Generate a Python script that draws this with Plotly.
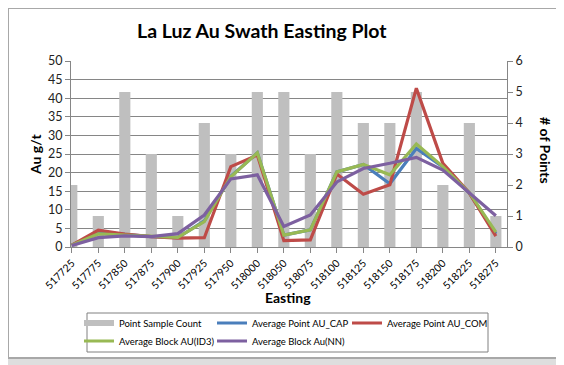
import plotly.graph_objects as go

eastings = ["517725", "517775", "517850", "517875", "517900", "517925", "517950",
            "518000", "518050", "518075", "518100", "518125", "518150", "518175",
            "518200", "518225", "518275"]
point_count = [2, 1, 5, 3, 1, 4, 3, 5, 5, 3, 5, 4, 4, 5, 2, 4, 1]
au_cap = [0.5, 4.0, 3.4, 2.8, 2.5, 7.0, 19.0, 25.3, 3.2, 4.6, 20.2, 22.2, 17.0, 26.5, 21.5, 14.5, 3.5]
au_com = [0.5, 4.5, 3.5, 2.8, 2.4, 2.5, 21.6, 24.7, 1.7, 1.9, 19.6, 14.2, 16.7, 42.7, 22.5, 14.5, 2.9]
au_id3 = [0.5, 3.5, 3.2, 2.8, 2.6, 6.8, 18.9, 25.3, 3.2, 4.6, 20.2, 22.2, 19.4, 27.7, 21.6, 14.6, 4.0]
au_nn = [0.4, 2.5, 3.0, 2.8, 3.6, 8.6, 18.3, 19.4, 5.5, 8.6, 17.5, 21.1, 22.5, 24.1, 20.7, 14.6, 8.4]

# page body has an 8px margin: figure is drawn at screen offset (8, 8)
OFF = 8
SW, SH = 564, 365
W, H = SW - OFF, SH - OFF
L, R, T, B = 71, 507, 61, 247          # plot area in screen coordinates
FONT = "Lato, Carlito, Calibri, sans-serif"

idx = list(range(len(eastings)))

def px(x):
    return (x - L) / (R - L)

def py(y):
    return (B - y) / (B - T)

def lx(text_start):
    return px(text_start - 40)

fig = go.Figure()
fig.add_trace(go.Bar(x=idx, y=point_count, name="Point Sample Count", yaxis="y",
                     marker=dict(color="#bfbfbf", line=dict(width=0)), width=0.42,
                     showlegend=False))
# legend-only swatch for the bar series (Excel style wide grey swatch)
fig.add_trace(go.Scatter(x=[None], y=[None], name="Point Sample Count", yaxis="y", mode="lines",
                         line=dict(color="#bfbfbf", width=6), legend="legend"))
series = [
    ("Average Point AU_CAP", au_cap, "#4a7ebb", "legend2"),
    ("Average Point AU_COM", au_com, "#be4b48", "legend3"),
    ("Average Block AU(ID3)", au_id3, "#98b954", "legend4"),
    ("Average Block Au(NN)", au_nn, "#7d60a0", "legend5"),
]
for name, vals, col, lg in series:
    fig.add_trace(go.Scatter(x=idx, y=vals, name=name, yaxis="y2", mode="lines",
                             line=dict(color=col, width=3.2), legend=lg))

leg_common = dict(orientation="h", xanchor="left", yanchor="middle",
                  font=dict(size=9.5, family=FONT, color="#000"),
                  bgcolor="rgba(0,0,0,0)", borderwidth=0)

fig.update_layout(
    width=W, height=H,
    margin=dict(l=L - OFF, r=W - (R - OFF), t=T - OFF, b=H - (B - OFF), autoexpand=False),
    paper_bgcolor="#dedede",
    plot_bgcolor="rgba(0,0,0,0)",
    font=dict(family=FONT, color="#000000", size=12),
    showlegend=True,
    xaxis=dict(range=[-0.03, 16.42], tickmode="array", tickvals=idx, ticktext=eastings,
               tickangle=-45, tickfont=dict(size=10.5, family=FONT, color="#000"),
               showgrid=False, showline=True, linecolor="#868686", linewidth=1,
               ticks="outside", ticklen=5, tickcolor="#868686", zeroline=False,
               automargin=False),
    yaxis=dict(range=[0, 6], dtick=1, side="right", showgrid=False, showline=True,
               linecolor="#868686", ticks="outside", ticklen=5, tickcolor="#868686",
               tickfont=dict(size=12.5, color="#222"), zeroline=False, automargin=False),
    yaxis2=dict(range=[0, 50], dtick=5, side="left", overlaying="y", showgrid=True,
                gridcolor="#868686", gridwidth=1, showline=True, linecolor="#868686",
                ticks="outside", ticklen=5, tickcolor="#868686",
                tickfont=dict(size=12.5, color="#222"), zeroline=False, automargin=False),
    legend=dict(x=lx(119), y=py(323), **leg_common),
    legend2=dict(x=lx(252), y=py(323), **leg_common),
    legend3=dict(x=lx(387), y=py(323), **leg_common),
    legend4=dict(x=lx(119), y=py(341), **leg_common),
    legend5=dict(x=lx(252), y=py(341), **leg_common),
)

fig.add_shape(type="rect", xref="paper", yref="paper", x0=px(OFF), x1=px(557), y0=py(358), y1=py(OFF),
              fillcolor="white", line=dict(color="#a8a8a8", width=2), layer="below")
fig.add_shape(type="rect", xref="paper", yref="paper", x0=px(87), x1=px(488), y0=py(352), y1=py(313),
              fillcolor="rgba(0,0,0,0)", line=dict(color="#808080", width=1), layer="above")

ann = dict(xref="paper", yref="paper", showarrow=False, xanchor="center", yanchor="middle")
fig.add_annotation(text="<b>La Luz Au Swath Easting Plot</b>", x=px(262), y=py(31),
                   font=dict(size=19.5, family=FONT), **ann)
fig.add_annotation(text="<b>Au g/t</b>", x=px(35), y=py(154), textangle=-90,
                   font=dict(size=14, family=FONT), **ann)
fig.add_annotation(text="<b># of Points</b>", x=px(546), y=py(150), textangle=90,
                   font=dict(size=14, family=FONT), **ann)
fig.add_annotation(text="<b>Easting</b>", x=px(288), y=py(297),
                   font=dict(size=14, family=FONT), **ann)

fig.write_html("out.html")
